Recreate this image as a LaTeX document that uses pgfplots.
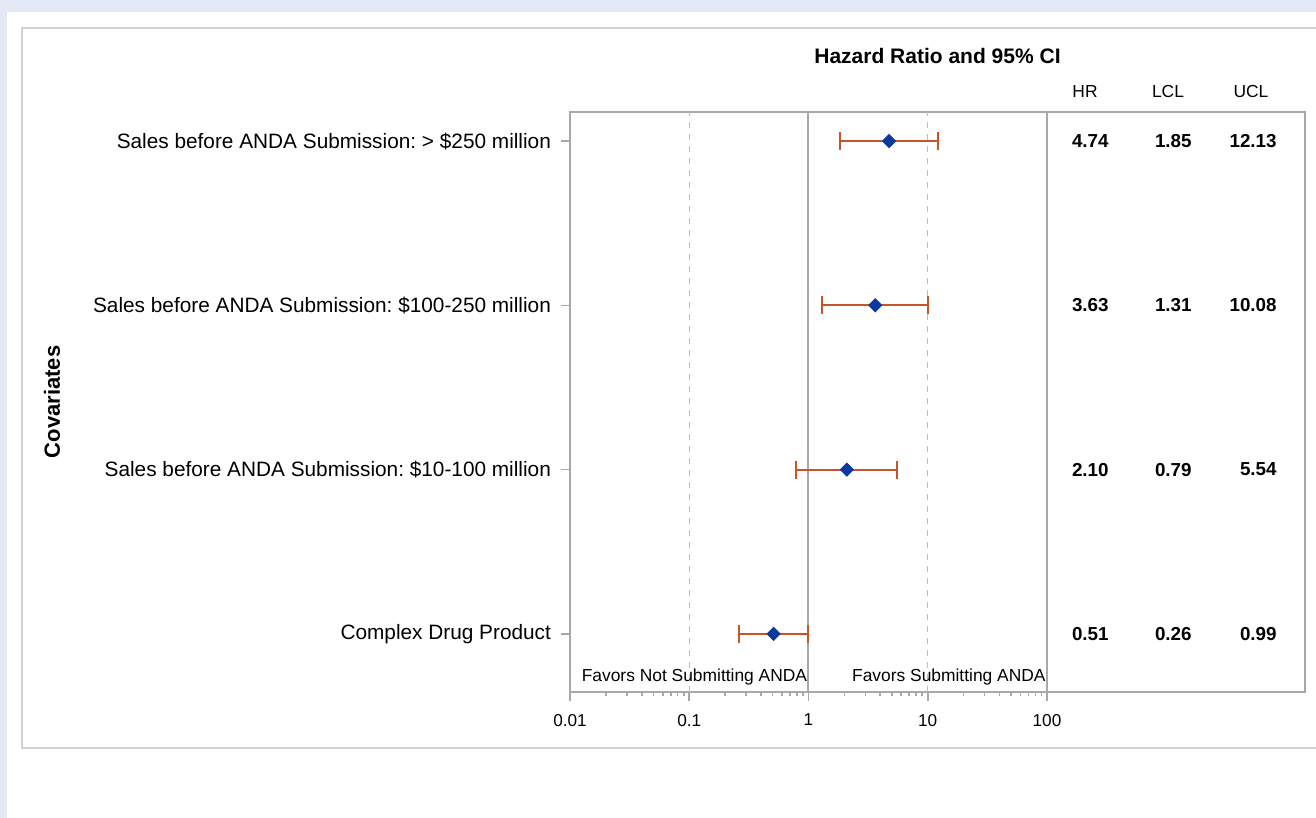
\documentclass[border=0pt]{standalone}
\usepackage{pgfplots}
\pgfplotsset{compat=1.18}
\usepackage{pgfplotstable}
\usepackage{fontspec}
\setmainfont{Liberation Sans}
\frenchspacing

\definecolor{pageblue}{HTML}{E2E9F5}
\definecolor{panelgray}{HTML}{D2D2D2}
\definecolor{framegray}{HTML}{A8A8A8}
\definecolor{refgray}{HTML}{BEBEBE}
\definecolor{hrblue}{HTML}{0B3A9E}
\definecolor{ciorange}{HTML}{C5562B}

% y: row position (4 = top row)
\pgfplotstableread{
y hr lcl ucl
4 4.74 1.85 12.13
3 3.63 1.31 10.08
2 2.10 0.79 5.54
1 0.51 0.26 0.99
}\hrdata

\begin{document}
\begin{tikzpicture}
% page and panel (1px = 0.5pt)
\path[use as bounding box] (0,0) rectangle (658pt,-409pt);
\fill[pageblue] (0,0) rectangle (658pt,-409pt);
\fill[white] (3.5pt,-6pt) rectangle (660pt,-410pt);
\draw[panelgray, line width=0.8pt] (662pt,-14pt) -- (11pt,-14pt) -- (11pt,-374pt) -- (662pt,-374pt);

\begin{axis}[
  at={(285pt,-346pt)}, anchor=south west,
  scale only axis, width=238.5pt, height=290pt,
  xmode=log, xmin=0.01, xmax=100,
  ymin=0.646, ymax=4.177,
  xtick={0.01,0.1,1,10,100},
  xticklabels={0.01,0.1,1,10,100},
  ytick={1,2,3,4},
  yticklabels={Complex Drug Product,
    Sales before ANDA Submission: \$10-100 million,
    Sales before ANDA Submission: \$100-250 million,
    Sales before ANDA Submission: > \$250 million},
  xtick pos=bottom, ytick pos=left,
  tick align=outside,
  major tick length=4.5pt, minor tick length=2pt,
  every tick/.style={framegray, line width=0.8pt},
  axis line style={framegray, line width=1pt},
  xticklabel style={font=\fontsize{8.6}{10}\selectfont, yshift=-3pt},
  yticklabel style={font=\fontsize{10.4}{12}\selectfont, xshift=-1.5pt},
  ylabel={Covariates},
  ylabel style={at={(rel axis cs:0,0.5)}, anchor=center, yshift=259pt,
    font=\fontsize{11}{13}\selectfont\bfseries},
  clip=false,
]
\draw[refgray, line width=0.7pt, dash pattern=on 3pt off 3pt]
  (axis cs:0.1,0.646) -- (axis cs:0.1,4.177)
  (axis cs:10,0.646) -- (axis cs:10,4.177);
\draw[framegray, line width=1pt] (axis cs:1,0.646) -- (axis cs:1,4.177);

% 95% CI (LCL to UCL)
\pgfplotsset{ci/.style={ciorange, line width=1pt, mark=|, mark size=4.5pt,
  mark options={ciorange, line width=1pt}}}
\addplot[ci] coordinates {(1.85,4) (12.13,4)};
\addplot[ci] coordinates {(1.31,3) (10.08,3)};
\addplot[ci] coordinates {(0.79,2) (5.54,2)};
\addplot[ci] coordinates {(0.26,1) (0.99,1)};

% hazard ratios
\addplot[only marks, mark=diamond*, mark size=3.3pt, hrblue,
  mark options={fill=hrblue, draw=hrblue, xscale=1.33}]
  table[x=hr, y=y] {\hrdata};

\node[anchor=east, inner sep=0.5pt, font=\fontsize{8.7}{10}\selectfont]
  at (axis cs:1,0.74) {Favors Not Submitting ANDA};
\node[anchor=east, inner sep=0.5pt, font=\fontsize{8.7}{10}\selectfont]
  at (axis cs:100,0.74) {Favors Submitting ANDA};
\end{axis}

\begin{axis}[
  at={(523.5pt,-346pt)}, anchor=south west,
  scale only axis, width=129pt, height=290pt,
  xmin=0, xmax=258, ymin=0.646, ymax=4.177,
  xtick=\empty, ytick=\empty,
  axis line style={framegray, line width=1pt},
  clip=false,
  every node near coord/.append style={anchor=east, inner sep=0pt,
    font=\fontsize{9.4}{11}\selectfont\bfseries, text=black},
]
\addplot[draw=none, nodes near coords, point meta=explicit symbolic]
  table[x expr=62, y=y, meta=hr] {\hrdata};
\addplot[draw=none, nodes near coords, point meta=explicit symbolic]
  table[x expr=145, y=y, meta=lcl] {\hrdata};
\addplot[draw=none, nodes near coords, point meta=explicit symbolic]
  table[x expr=230, y=y, meta=ucl] {\hrdata};

\node[font=\fontsize{8.7}{10}\selectfont] at (axis cs:38,4.299) {HR};
\node[font=\fontsize{8.7}{10}\selectfont] at (axis cs:121,4.299) {LCL};
\node[font=\fontsize{8.7}{10}\selectfont] at (axis cs:204,4.299) {UCL};
\end{axis}

\node[font=\fontsize{10.5}{12}\selectfont\bfseries] at (468.75pt,-28pt)
  {Hazard Ratio and 95\% CI};
\end{tikzpicture}
\end{document}
